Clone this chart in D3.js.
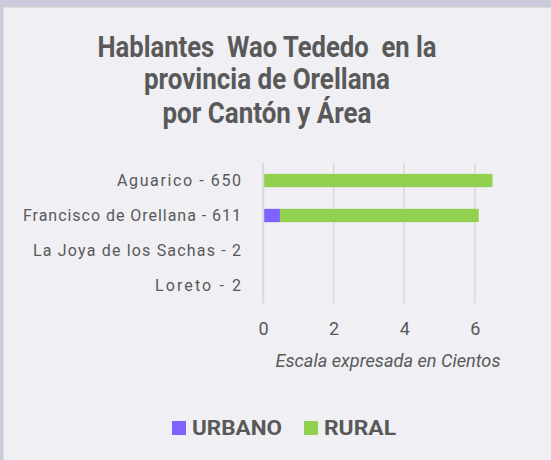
<!DOCTYPE html>
<html><head><meta charset="utf-8">
<script src="https://cdn.jsdelivr.net/npm/d3@7"></script>
<style>
html,body{margin:0;padding:0;background:#cbcbdd;}
svg{display:block;}
text{white-space:pre;}
</style></head>
<body>
<svg id="chart" width="551" height="460"></svg>
<script>
const categories = ["Aguarico - 650", "Francisco de Orellana - 611", "La Joya de los Sachas - 2", "Loreto - 2"];
const urbano = [0, 0.48, 0, 0];
const rural = [6.5, 5.63, 0.02, 0.02];
const seriesNames = ["URBANO", "RURAL"];
const seriesColors = ["#7f62ff", "#92d050"];
const xTicks = [0, 2, 4, 6];
const titleLines = ["Hablantes  Wao Tededo  en la", "provincia de Orellana", "por Cantón y Área"];
const axisTitle = "Escala expresada en Cientos";

const svg = d3.select("#chart");
const W = 551, H = 460;
svg.append("rect").attr("x", 3.5).attr("y", 7.5).attr("width", W - 3).attr("height", H - 7)
  .attr("fill", "#efeff4").attr("stroke", "#dcdfd8").attr("stroke-width", 1);

const font = "Roboto, 'Liberation Sans', sans-serif";
const textCol = "#595959";

// Title
const tLens = [339, 246, 209];
const tBase = [57, 89, 123];
titleLines.forEach((t, i) => {
  svg.append("text").attr("x", 267).attr("y", tBase[i]).attr("text-anchor", "middle")
    .attr("font-family", font).attr("font-weight", "bold").attr("font-size", 29)
    .attr("fill", textCol).attr("textLength", tLens[i]).attr("lengthAdjust", "spacingAndGlyphs")
    .attr("xml:space", "preserve")
    .text(t);
});

const x = d3.scaleLinear().domain([0, 7]).range([263, 263 + 7 * 35.3]);
const y = d3.scaleBand().domain(categories).range([163, 303]).paddingInner(0.62).paddingOuter(0.31);

// gridlines
svg.append("g").selectAll("line").data(xTicks).join("line")
  .attr("x1", d => x(d)).attr("x2", d => x(d)).attr("y1", 163).attr("y2", 303)
  .attr("stroke", "#d9d9d9").attr("stroke-width", 1.5);

// stacked bars
const rows = categories.map((c, i) => ({cat: c, URBANO: urbano[i], RURAL: rural[i]}));
const stack = d3.stack().keys(seriesNames)(rows);
stack.forEach((s, si) => {
  svg.append("g").selectAll("rect").data(s).join("rect")
    .attr("x", d => x(d[0])).attr("width", d => Math.max(0, x(d[1]) - x(d[0])))
    .attr("y", d => y(d.data.cat)).attr("height", y.bandwidth())
    .attr("fill", seriesColors[si]);
});

// x axis
const xAxis = svg.append("g").attr("transform", "translate(0,303)")
  .call(d3.axisBottom(x).tickValues(xTicks).tickFormat(d3.format("d")).tickSize(0).tickPadding(19));
xAxis.select(".domain").remove();
xAxis.selectAll("text").attr("font-family", font).attr("font-size", 18).attr("fill", textCol);

// y axis
const labelLens = [124, 218, 208, 86];
const yAxis = svg.append("g").attr("transform", "translate(263,0)")
  .call(d3.axisLeft(y).tickSize(0).tickPadding(22));
yAxis.select(".domain").attr("stroke", "#d9d9d9").attr("stroke-width", 1.5);
yAxis.selectAll("text").attr("font-family", font).attr("font-size", 16).attr("fill", textCol)
  .attr("textLength", (d, i) => labelLens[i]).attr("lengthAdjust", "spacing");

// axis title
svg.append("text").attr("x", 388).attr("y", 367).attr("text-anchor", "middle")
  .attr("font-family", font).attr("font-style", "italic").attr("font-size", 17.5)
  .attr("fill", textCol).attr("textLength", 225).attr("lengthAdjust", "spacingAndGlyphs").text(axisTitle);

// legend
const legX = [172, 304];
const legTextLen = [90, 72];
seriesNames.forEach((n, i) => {
  svg.append("rect").attr("x", legX[i]).attr("y", 421).attr("width", 14).attr("height", 14)
    .attr("fill", seriesColors[i]);
  svg.append("text").attr("x", legX[i] + 20).attr("y", 435).attr("font-family", font)
    .attr("font-weight", "bold").attr("font-size", 20).attr("fill", textCol)
    .attr("textLength", legTextLen[i]).attr("lengthAdjust", "spacingAndGlyphs").text(n);
});
</script>
</body></html>
